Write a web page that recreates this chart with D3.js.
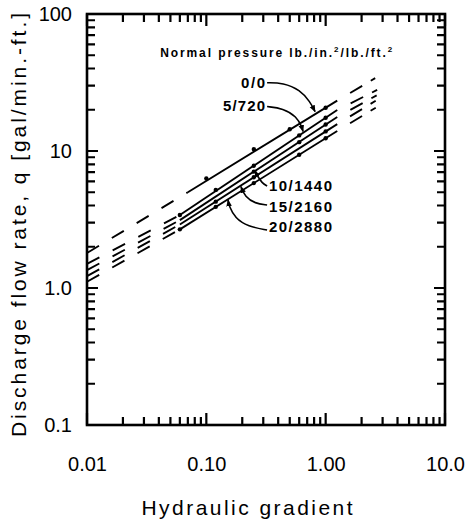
<!DOCTYPE html>
<html>
<head>
<meta charset="utf-8">
<script src="https://cdn.jsdelivr.net/npm/d3@7"></script>
<style>
  body { margin: 0; background: #fff; }
  svg { display: block; font-family: "Liberation Sans", Arial, Helvetica, sans-serif; }
</style>
</head>
<body>
<svg id="chart" width="467" height="529"></svg>
<script>
// axis ticks
const xTickValues = [0.01, 0.1, 1, 10];
const xTickLabels = ["0.01", "0.10", "1.00", "10.0"];
const yTickValues = [0.1, 1, 10, 100];
const yTickLabels = ["0.1", "1.0", "10", "100"];

// one line per normal pressure (lb./in.2 / lb./ft.2)
const pressureLabels = ["0/0", "5/720", "10/1440", "15/2160", "20/2880"];

// each line read at: left end, start of solid part, end of solid part, right end
const breakGradients = [
  [0.01, 0.07, 1.25, 2.6],
  [0.01, 0.06, 1.25, 2.7],
  [0.01, 0.06, 1.25, 2.7],
  [0.01, 0.06, 1.25, 2.7],
  [0.01, 0.06, 1.25, 2.7]
];
const breakFlows = [
  [1.80, 5.0, 23.3, 34.0],
  [1.50, 3.41, 19.9, 27.9],
  [1.35, 3.13, 17.7, 25.6],
  [1.22, 2.91, 15.7, 23.6],
  [1.11, 2.68, 14.0, 21.0]
];

// measured points (dots)
const pointGradients = [
  [0.10, 0.25, 0.50, 1.0],
  [0.06, 0.12, 0.25, 0.60, 1.0],
  [0.25, 0.60, 1.0],
  [0.12, 0.25, 1.0],
  [0.06, 0.12, 0.25, 0.60, 1.0]
];
const pointFlows = [
  [6.3, 10.3, 14.4, 20.7],
  [3.41, 5.2, 7.8, 13.0, 17.5],
  [7.07, 11.6, 15.6],
  [4.27, 6.43, 13.9],
  [2.68, 3.91, 5.83, 9.39, 12.4]
];

// line labels and their leader curves, in data units
const labelGradients = [0.31, 0.31, 0.335, 0.335, 0.335];
const labelFlows = [28.8, 19.6, 5.1, 3.59, 2.56];
const labelAnchors = ["end", "end", "start", "start", "start"];
const labelWidths = [24, 42, 63, 63, 63];
const leaderGradients = [
  [0.323, 0.44, 0.61, 0.74, 0.815],
  [0.323, 0.44, 0.573, 0.63, 0.646],
  [0.323, 0.293, 0.268, 0.256],
  [0.323, 0.256, 0.211, 0.195],
  [0.323, 0.224, 0.174, 0.155, 0.152]
];
const leaderFlows = [
  [31.5, 31.5, 27.9, 22.9, 19.4],
  [21.1, 20.5, 17.8, 15.0, 13.9],
  [5.55, 5.84, 6.57, 7.2],
  [4.04, 4.14, 4.62, 5.5],
  [2.65, 2.81, 3.24, 3.97, 4.39]
];

const legendTitleAt = [0.041, 48.5];

const frame = { left: 87, right: 445, top: 14, bottom: 425 };
const svg = d3.select("#chart");

const x = d3.scaleLog().domain([0.01, 10]).range([frame.left, frame.right]);
const y = d3.scaleLog().domain([0.1, 100]).range([frame.bottom, frame.top]);

function minorTicks(lo, hi) {
  const t = [];
  for (let d = lo; d < hi * 0.999; d *= 10) {
    for (let k = 2; k <= 9; k++) t.push(+(k * d).toPrecision(3));
  }
  return t;
}
const xMinor = minorTicks(0.01, 10);
const yMinor = minorTicks(0.1, 100);

function styleAxis(g) {
  g.select(".domain").remove();
  g.selectAll(".tick line").remove();
  g.selectAll(".tick text").attr("fill", "#000").attr("font-size", 20)
    .attr("font-family", "Liberation Sans, Arial, sans-serif");
}

// tick labels through d3 axes
svg.append("g").attr("transform", `translate(${frame.left},0)`)
  .call(d3.axisLeft(y).tickValues(yTickValues).tickSize(0).tickPadding(15)
    .tickFormat(d => yTickLabels[yTickValues.indexOf(d)]))
  .call(styleAxis);
svg.append("g").attr("transform", `translate(0,${frame.bottom})`)
  .call(d3.axisBottom(x).tickValues(xTickValues).tickSize(0).tickPadding(32)
    .tickFormat(d => xTickLabels[xTickValues.indexOf(d)]))
  .call(styleAxis);

// frame
svg.append("rect")
  .attr("x", frame.left).attr("y", frame.top)
  .attr("width", frame.right - frame.left).attr("height", frame.bottom - frame.top)
  .attr("fill", "none").attr("stroke", "#000").attr("stroke-width", 2.6);

// axis titles
svg.append("text")
  .attr("x", 247).attr("y", 515)
  .attr("text-anchor", "middle").attr("font-size", 21)
  .attr("textLength", 211).attr("lengthAdjust", "spacing")
  .text("Hydraulic gradient");
svg.append("text")
  .attr("transform", "translate(26,225) rotate(-90)")
  .attr("text-anchor", "middle").attr("font-size", 21)
  .attr("textLength", 424).attr("lengthAdjust", "spacing")
  .text("Discharge flow rate, q [gal/min.-ft.]");

// arrowhead
svg.append("defs").append("marker")
  .attr("id", "arrow").attr("viewBox", "0 0 10 10")
  .attr("refX", 9).attr("refY", 5)
  .attr("markerWidth", 7).attr("markerHeight", 7)
  .attr("markerUnits", "userSpaceOnUse")
  .attr("orient", "auto")
  .append("path").attr("d", "M0,1 L10,5 L0,9 Z").attr("fill", "#000");

const line = d3.line().x(d => x(d[0])).y(d => y(d[1]));
const curve = d3.line().x(d => x(d[0])).y(d => y(d[1])).curve(d3.curveBasis);
const plot = svg.append("g");

pressureLabels.forEach((name, i) => {
  const b = breakGradients[i].map((g, j) => [g, breakFlows[i][j]]);
  plot.append("path").attr("d", line([b[0], b[1]]))
    .attr("fill", "none").attr("stroke", "#000").attr("stroke-width", 1.9)
    .attr("stroke-dasharray", "14 15");
  plot.append("path").attr("d", line([b[1], b[2]]))
    .attr("fill", "none").attr("stroke", "#000").attr("stroke-width", 1.9);
  plot.append("path").attr("d", line([b[2], b[3]]))
    .attr("fill", "none").attr("stroke", "#000").attr("stroke-width", 1.9)
    .attr("stroke-dasharray", "14 10 6 15").attr("stroke-dashoffset", 30);

  plot.selectAll(null)
    .data(pointGradients[i].map((g, j) => [g, pointFlows[i][j]]))
    .join("circle")
    .attr("cx", d => x(d[0])).attr("cy", d => y(d[1])).attr("r", 2.2)
    .attr("fill", "#000");

  // leader and label
  const leader = leaderGradients[i].map((g, j) => [g, leaderFlows[i][j]]);
  plot.append("path")
    .attr("d", curve(leader))
    .attr("fill", "none").attr("stroke", "#000").attr("stroke-width", 1.6)
    .attr("marker-end", "url(#arrow)");
  plot.append("text")
    .attr("x", x(labelGradients[i])).attr("y", y(labelFlows[i]))
    .attr("text-anchor", labelAnchors[i])
    .attr("font-size", 15).attr("font-weight", "bold")
    .attr("textLength", labelWidths[i]).attr("lengthAdjust", "spacing")
    .text(name);
});

// legend title
const lt = svg.append("text")
  .attr("x", x(legendTitleAt[0])).attr("y", y(legendTitleAt[1]))
  .attr("font-size", 12).attr("font-weight", "bold")
  .attr("textLength", 232).attr("lengthAdjust", "spacing");
lt.append("tspan").text("Normal pressure lb./in.");
lt.append("tspan").attr("font-size", 8).attr("dy", -5).text("2");
lt.append("tspan").attr("dy", 5).text("/lb./ft.");
lt.append("tspan").attr("font-size", 8).attr("dy", -5).text("2");

// inward tick marks on all four sides, one path drawn last
let tickPath = "";
yTickValues.forEach(v => {
  const py = y(v);
  tickPath += `M${frame.left},${py}h11M${frame.right},${py}h-11`;
});
yMinor.forEach(v => {
  const py = y(v);
  tickPath += `M${frame.left},${py}h8M${frame.right},${py}h-8`;
});
xTickValues.forEach(v => {
  const px = x(v);
  tickPath += `M${px},${frame.bottom}v-12M${px},${frame.top}v12`;
});
xMinor.forEach(v => {
  const px = x(v);
  tickPath += `M${px},${frame.bottom}v-8M${px},${frame.top}v8`;
});
svg.append("path").attr("d", tickPath)
  .attr("fill", "none").attr("stroke", "#000").attr("stroke-width", 2.2);
</script>
</body>
</html>
